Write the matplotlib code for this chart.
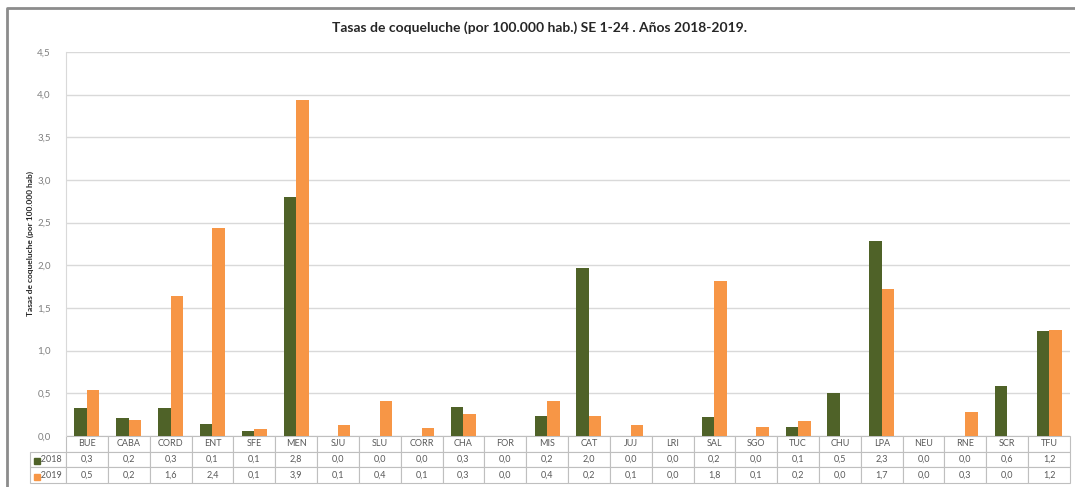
import matplotlib
matplotlib.use("Agg")
import matplotlib.pyplot as plt
from matplotlib.lines import Line2D

plt.rcParams["font.family"] = ["Lato", "DejaVu Sans"]

provincias = ["BUE", "CABA", "CORD", "ENT", "SFE", "MEN", "SJU", "SLU", "CORR", "CHA",
              "FOR", "MIS", "CAT", "JUJ", "LRI", "SAL", "SGO", "TUC", "CHU", "LPA",
              "NEU", "RNE", "SCR", "TFU"]
tasas_2018 = [0.33, 0.21, 0.33, 0.14, 0.06, 2.80, 0.0, 0.0, 0.0, 0.34,
              0.0, 0.24, 1.97, 0.0, 0.0, 0.22, 0.0, 0.11, 0.50, 2.29,
              0.0, 0.0, 0.59, 1.23]
tasas_2019 = [0.54, 0.19, 1.64, 2.44, 0.08, 3.94, 0.13, 0.41, 0.09, 0.26,
              0.0, 0.41, 0.24, 0.13, 0.0, 1.82, 0.10, 0.18, 0.0, 1.72,
              0.0, 0.28, 0.0, 1.24]
series = ["2018", "2019"]
colores = ["#4F6228", "#F79646"]

W, H = 1075, 487
fig = plt.figure(figsize=(W / 100, H / 100), dpi=100)
fig.patch.set_facecolor("white")

# marco exterior (solo izquierda y arriba)
fig.add_artist(Line2D([7 / W, 7 / W, 1.0], [0.0, 1 - 8 / H, 1 - 8 / H],
                      transform=fig.transFigure, color="#8c8c8c", linewidth=2))

ax_l, ax_r = 66, 1070
ax = fig.add_axes([ax_l / W, (H - 436) / H, (ax_r - ax_l) / W, 384 / H])

x = list(range(len(provincias)))
ancho = 0.3
ax.bar([i - ancho / 2 for i in x], tasas_2018, width=ancho, color=colores[0], zorder=3)
ax.bar([i + ancho / 2 for i in x], tasas_2019, width=ancho, color=colores[1], zorder=3)

ax.set_xlim(-0.5, len(provincias) - 0.5)
ax.set_ylim(0, 4.5)
yt = [i * 0.5 for i in range(10)]
ax.set_yticks(yt)
ax.set_yticklabels([f"{v:.1f}".replace(".", ",") for v in yt], color="#7f7f7f", fontsize=7)
ax.tick_params(axis="y", length=0, pad=11)
ax.set_xticks([])
ax.grid(axis="y", color="#d9d9d9", linewidth=1, zorder=0)
for s in ["top", "right", "bottom"]:
    ax.spines[s].set_visible(False)
ax.spines["left"].set_color("#d9d9d9")

ax.set_ylabel("Tasas de coqueluche (por 100.000 hab)", fontsize=6, fontweight="bold",
              color="#262626", labelpad=2)
fig.text(540 / W, 1 - 28 / H, "Tasas de coqueluche (por 100.000 hab.) SE 1-24 . Años 2018-2019.",
         ha="center", va="center", fontsize=10, fontweight="bold", color="#262626")

# tabla de datos
fmt = lambda v: f"{v:.1f}".replace(".", ",")
celdas = [["   " + series[0]] + [fmt(v) for v in tasas_2018],
          ["   " + series[1]] + [fmt(v) for v in tasas_2019]]
col_lbl = [""] + provincias
lbl_w = 36 / (ax_r - ax_l)
alto = 47 / 384
tabla = ax.table(cellText=celdas, colLabels=col_lbl, cellLoc="center",
                 colWidths=[lbl_w] + [1 / len(provincias)] * len(provincias),
                 bbox=[-lbl_w, -alto, 1 + lbl_w, alto])
tabla.auto_set_font_size(False)
tabla.set_fontsize(6.5)
for (r, c), cell in tabla.get_celld().items():
    cell.set_edgecolor("#bfbfbf")
    cell.set_linewidth(0.8)
    cell.get_text().set_color("#595959")
tabla[0, 0].visible_edges = "open"
tabla[0, 0].set_text_props(text="")

for k, col in enumerate(colores):
    ax.plot([-0.029], [-0.066 - k * 0.041], marker="s", markersize=4.5, color=col,
            transform=ax.transAxes, clip_on=False, zorder=5)

fig.savefig("out.png", dpi=100)
